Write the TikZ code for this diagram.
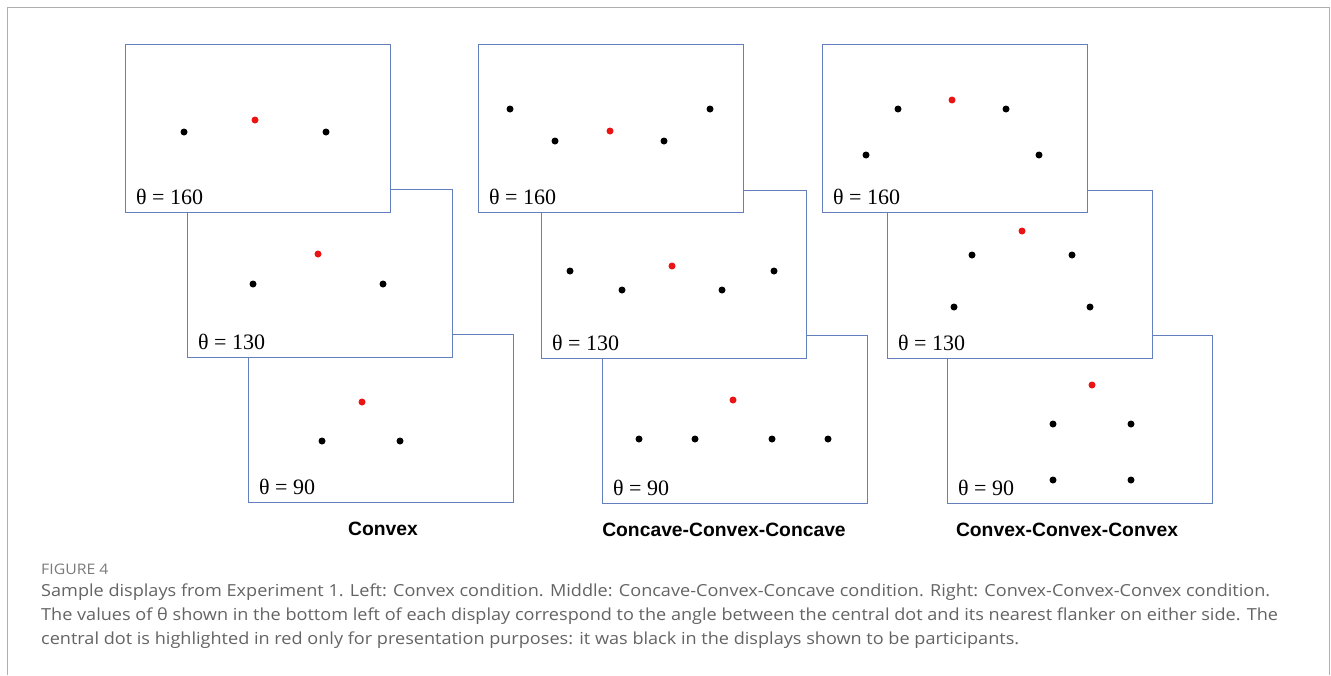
\documentclass[tikz,border=0pt]{standalone}
\usepackage{fontspec}
\setmainfont{Liberation Serif}
\newfontfamily\titlefont{Liberation Sans}
\newfontfamily\capfont[FakeStretch=1.09]{Open Sans}
\definecolor{panelblue}{RGB}{100,128,188}
\definecolor{framegray}{RGB}{175,175,175}
\definecolor{captiongray}{RGB}{100,100,100}
\definecolor{dotred}{RGB}{235,20,20}
\tikzset{
  panel/.style={draw=panelblue, line width=1pt, fill=white, anchor=north west,
    minimum width=265pt, minimum height=168pt, inner sep=0pt, outer sep=0pt},
  dot/.style={circle, fill=black, minimum size=7pt, inner sep=0pt},
  reddot/.style={dot, fill=dotred},
  thetalabel/.style={anchor=west, font=\fontsize{22}{24}\selectfont, inner sep=0pt},
  coltitle/.style={font=\titlefont\bfseries\fontsize{19.3}{22}\selectfont, inner sep=0pt},
  capline/.style={anchor=west, inner sep=0pt, text=captiongray, font=\capfont\fontsize{16.6}{20}\selectfont}
}
\newcommand{\panelwithlabel}[4]{%
  \node[panel] (#1) at (#2,#3) {};
  \node[thetalabel] (#1lab) at ([xshift=11pt,yshift=15pt]#1.south west) {θ = #4};
}
\begin{document}
\begin{tikzpicture}[x=1pt,y=-1pt]
  \useasboundingbox[fill=white] (0,0) rectangle (1331,675);
  % outer frame, open at the bottom
  \draw[framegray, line width=1.5pt] (7.5,675) -- (7.5,7.5) -- (1329.5,7.5) -- (1329.5,675);

  % ---------- Convex ----------
  \panelwithlabel{L3}{248}{334}{90}
  \node[reddot] (l3c) at (362,402) {};
  \node[dot] (l3a) at (322,441) {};
  \node[dot] (l3b) at (400,441) {};
  \panelwithlabel{L2}{187}{189}{130}
  \node[dot] (l2a) at (253,284) {};
  \node[reddot] (l2c) at (318,254) {};
  \node[dot] (l2b) at (383,284) {};
  \panelwithlabel{L1}{125}{44}{160}
  \node[dot] (l1a) at (184,132) {};
  \node[reddot] (l1c) at (255,120) {};
  \node[dot] (l1b) at (326,132) {};

  % ---------- Concave-Convex-Concave ----------
  \panelwithlabel{M3}{602}{335}{90}
  \node[dot] (m3a) at (639,439) {};
  \node[dot] (m3b) at (695,439) {};
  \node[reddot] (m3c) at (733,400) {};
  \node[dot] (m3d) at (772,439) {};
  \node[dot] (m3e) at (828,439) {};
  \panelwithlabel{M2}{541}{190}{130}
  \node[dot] (m2a) at (570,271) {};
  \node[dot] (m2b) at (622,290) {};
  \node[reddot] (m2c) at (672,266) {};
  \node[dot] (m2d) at (722,290) {};
  \node[dot] (m2e) at (774,271) {};
  \panelwithlabel{M1}{478}{44}{160}
  \node[dot] (m1a) at (510,109) {};
  \node[dot] (m1b) at (555,141) {};
  \node[reddot] (m1c) at (610,131) {};
  \node[dot] (m1d) at (664,141) {};
  \node[dot] (m1e) at (710,109) {};

  % ---------- Convex-Convex-Convex ----------
  \panelwithlabel{R3}{947}{335}{90}
  \node[reddot] (r3c) at (1092,385) {};
  \node[dot] (r3a) at (1053,424) {};
  \node[dot] (r3b) at (1131,424) {};
  \node[dot] (r3d) at (1053,480) {};
  \node[dot] (r3e) at (1131,480) {};
  \panelwithlabel{R2}{887}{190}{130}
  \node[dot] (r2a) at (954,307) {};
  \node[dot] (r2b) at (972,255) {};
  \node[reddot] (r2c) at (1022,231) {};
  \node[dot] (r2d) at (1072,255) {};
  \node[dot] (r2e) at (1090,307) {};
  \panelwithlabel{R1}{822}{44}{160}
  \node[dot] (r1a) at (866,155) {};
  \node[dot] (r1b) at (898,109) {};
  \node[reddot] (r1c) at (952,100) {};
  \node[dot] (r1d) at (1006,109) {};
  \node[dot] (r1e) at (1039,155) {};

  % column titles
  \node[coltitle] (t1) at (383,529) {Convex};
  \node[coltitle] (t2) at (724,530) {Concave-Convex-Concave};
  \node[coltitle] (t3) at (1067,530) {Convex-Convex-Convex};

  % caption
  \node[anchor=west, inner sep=0pt, text=captiongray!85, font=\capfont\fontsize{14.5}{16}\selectfont] (fig) at (41,569) {FIGURE 4};
  \node[capline] (c1) at (41,592) {Sample displays from Experiment 1. Left: Convex condition. Middle: Concave-Convex-Concave condition. Right: Convex-Convex-Convex condition.};
  \node[capline] (c2) at (41,616) {The values of θ shown in the bottom left of each display correspond to the angle between the central dot and its nearest flanker on either side. The};
  \node[capline] (c3) at (41,640) {central dot is highlighted in red only for presentation purposes: it was black in the displays shown to be participants.};
\end{tikzpicture}
\end{document}
